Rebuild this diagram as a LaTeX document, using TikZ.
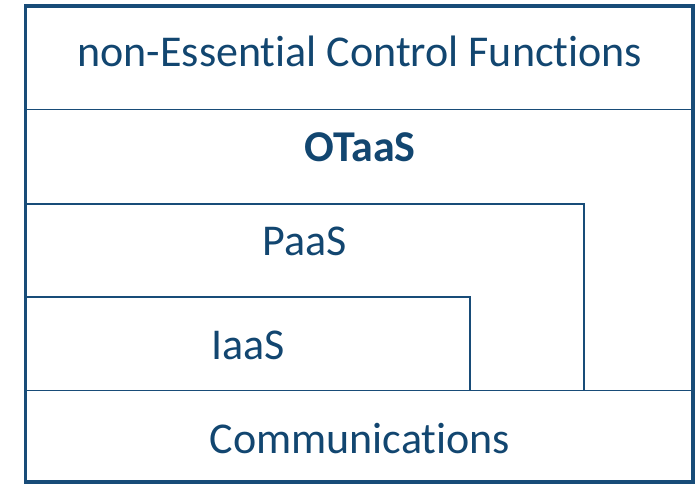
\documentclass[tikz,border=0pt]{standalone}
\usepackage{fontspec}
\setmainfont[Ligatures=NoCommon]{Carlito}
\definecolor{navy}{RGB}{18,70,112}
\definecolor{rule}{RGB}{24,76,120}
\begin{document}
\begin{tikzpicture}[x=0.75pt,y=-0.75pt,
  label/.style={text=navy,font=\fontsize{33}{37}\selectfont,inner sep=0pt,anchor=base},
  frame/.style={draw=rule,line width=2.6pt},
  inner/.style={draw=rule,line width=1.4pt}]
\useasboundingbox (0,0) rectangle (700,483);
% layer boundaries
\draw[inner] (25,109.5) -- (693,109.5);
\draw[inner] (25,390.5) -- (693,390.5);
% nested platform boxes
\draw[inner] (25,204) -- (584,204) -- (584,390.5);
\draw[inner] (25,297) -- (470,297) -- (470,390.5);
% outer frame
\draw[frame] (25.5,6) rectangle (693,482);
% layer labels
\node[label] (nec) at (360,66.5) {non-Essential Control Functions};
\node[label] (otaas) at (360,161) {\bfseries OTaaS};
\node[label] (paas) at (305,255) {PaaS};
\node[label] (iaas) at (248,359) {IaaS};
\node[label] (comm) at (360,453) {Communications};
\end{tikzpicture}
\end{document}
